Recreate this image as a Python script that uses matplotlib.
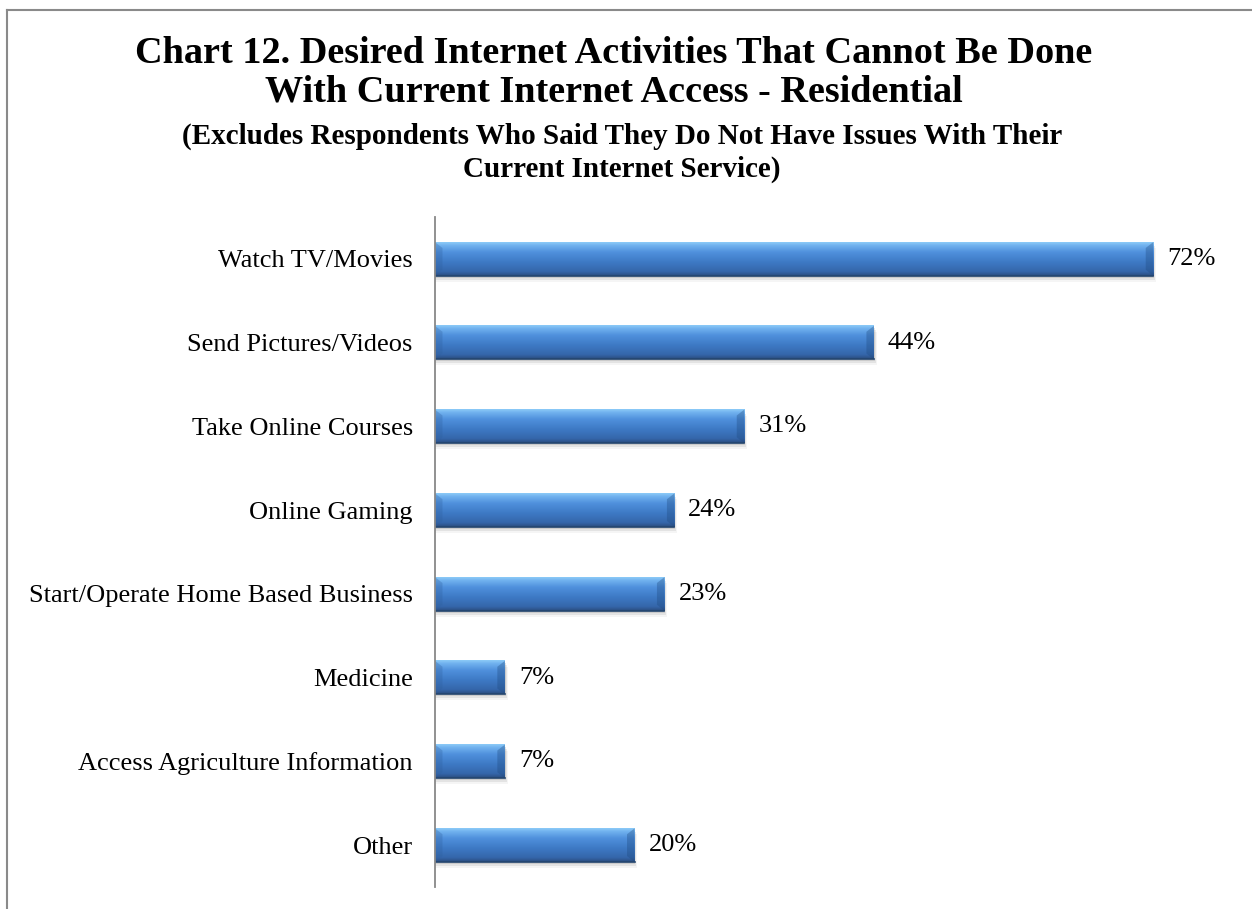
import numpy as np
import matplotlib
matplotlib.use("Agg")
import matplotlib.pyplot as plt
from matplotlib.colors import LinearSegmentedColormap
from matplotlib.patches import Rectangle, Polygon

plt.rcParams['font.family'] = ['Liberation Serif', 'DejaVu Serif']

categories = ["Watch TV/Movies", "Send Pictures/Videos", "Take Online Courses",
              "Online Gaming", "Start/Operate Home Based Business", "Medicine",
              "Access Agriculture Information", "Other"]
values = [72, 44, 31, 24, 23, 7, 7, 20]
labels = ["72%", "44%", "31%", "24%", "23%", "7%", "7%", "20%"]

title_lines = ["Chart 12. Desired Internet Activities That Cannot Be Done",
               "With Current Internet Access - Residential"]
subtitle_lines = ["(Excludes Respondents Who Said They Do Not Have Issues With Their",
                  "Current Internet Service)"]

W, H = 1252, 909

# vertical gradient for the bevelled bars (top -> bottom)
bar_cmap = LinearSegmentedColormap.from_list("bevel", [
    (0.00, "#8ccaf7"), (0.10, "#6fb0ee"), (0.30, "#4f90dc"),
    (0.60, "#3d79c4"), (0.88, "#3566aa"), (1.00, "#2a4d7e")])
grad = np.linspace(0, 1, 64).reshape(-1, 1)

fig = plt.figure(figsize=(W / 100, H / 100), dpi=100)
ax = fig.add_axes([435 / W, 1 - 887 / H, 798 / W, (887 - 217) / H])

n = len(categories)
ypos = np.arange(n)
h = 0.40
ax.set_xlim(0, 80)
ax.set_ylim(n - 0.5, -0.5)

for y, v, lab in zip(ypos, values, labels):
    top, bot = y - h / 2, y + h / 2
    # soft drop shadow
    for k, a in enumerate([0.10, 0.07, 0.04]):
        d = 0.012 * (k + 1)
        ax.add_patch(Rectangle((0, top + d * 2), v + d * 8, h, color="black",
                               alpha=a, lw=0, zorder=1))
    ax.imshow(grad, cmap=bar_cmap, aspect="auto", extent=(0, v, bot, top),
              zorder=2, interpolation="bicubic")
    # bevel facets at the bar ends
    bx = min(0.75, v / 4)
    ax.add_patch(Polygon([(0, top), (bx, top + 0.07), (bx, bot - 0.07), (0, bot)],
                         closed=True, color="#2f5f9e", alpha=0.30, lw=0, zorder=3))
    ax.add_patch(Polygon([(v, top), (v - bx, top + 0.07), (v - bx, bot - 0.07), (v, bot)],
                         closed=True, color="#1f4a80", alpha=0.35, lw=0, zorder=3))
    ax.plot([0, v], [bot, bot], color="#25466f", lw=1.2, zorder=4)
    ax.text(v + 1.4, y, lab, va="center", ha="left", fontsize=19, zorder=5)

ax.set_yticks(ypos)
ax.set_yticklabels(categories, fontsize=19)
ax.tick_params(axis="y", length=0, pad=16)
ax.set_xticks([])
for s in ["top", "right", "bottom"]:
    ax.spines[s].set_visible(False)
ax.spines["left"].set_color("#888888")
ax.spines["left"].set_linewidth(1.3)
ax.spines["left"].set_zorder(6)

for line, base in zip(title_lines, [63, 102]):
    fig.text(614 / W, 1 - base / H, line, ha="center", va="baseline",
             fontsize=27.5, fontweight="bold")
for line, base in zip(subtitle_lines, [144, 177]):
    fig.text(622 / W, 1 - base / H, line, ha="center", va="baseline",
             fontsize=21, fontweight="bold")

# outer chart frame
fig.add_artist(plt.Line2D([7 / W, 7 / W], [0, 1 - 10 / H],
                          transform=fig.transFigure, color="#8a8a8a", lw=1.5))
fig.add_artist(plt.Line2D([7 / W, 1], [1 - 10 / H, 1 - 10 / H],
                          transform=fig.transFigure, color="#8a8a8a", lw=1.5))

fig.savefig("out.png", dpi=100)
